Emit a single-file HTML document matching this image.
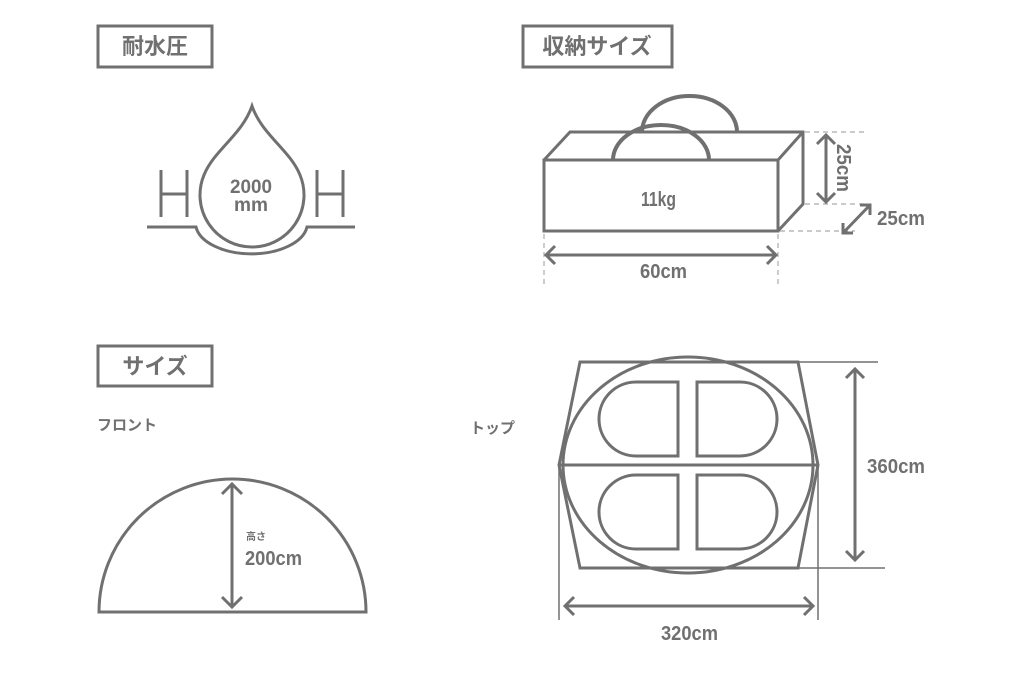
<!DOCTYPE html>
<html><head><meta charset="utf-8"><style>
html,body{margin:0;padding:0;background:#fff;}
svg{display:block;}
text{font-family:"Liberation Sans","Noto Sans CJK JP",sans-serif;font-weight:bold;fill:#707070;}
</style></head><body>
<svg width="1024" height="683" viewBox="0 0 1024 683" xmlns="http://www.w3.org/2000/svg">
<g fill="none" stroke="#707070" stroke-width="3">
<rect x="98" y="26" width="114" height="41"/>
<rect x="523" y="26" width="149" height="41"/>
<rect x="98" y="346" width="114" height="40"/>

<path d="M252 106 C262 135 290 150 300 175 A52 52 0 1 1 204 175 C214 150 242 135 252 106 Z"/>
<path d="M147 227 L196 227 A56 31 0 0 0 307 227 L355 227"/>
<path d="M161 170 V217 M187 170 V217 M161 194 H187"/>
<path d="M317 170 V217 M343 170 V217 M317 194 H343"/>

<path d="M642 132 A47.5 36 0 0 1 737 132" stroke-width="4"/>
<rect x="544" y="160" width="234" height="71"/>
<path d="M544 160 L570 132 L803 132 L803 204 L778 231 M778 160 L803 132"/>
<path d="M613 160 A48 35 0 0 1 709 160" stroke-width="4"/>
<g stroke-dasharray="5 4" stroke-width="1.2" stroke="#aaa">
<path d="M805 132 H868 M805 204 H868 M780 231 H855 M544 234 V285 M778 234 V285"/>
</g>
<path d="M826 135 V202 M817 144 L826 135 L835 144 M817 193 L826 202 L835 193"/>
<path d="M843 233 L870 205 M843 223 L843 233 L853 233 M860 205 L870 205 L870 215"/>
<path d="M546 255 H776 M555 246 L546 255 L555 264 M767 246 L776 255 L767 264"/>

<path d="M99 612 A133.5 133 0 0 1 366 612 Z"/>
<path d="M232 484 V607 M222 494 L232 484 L242 494 M222 597 L232 607 L242 597"/>

<path d="M580 362 L798 362 L818 465 L798 568 L580 568 L559 465 Z"/>
<ellipse cx="688" cy="465" rx="125" ry="108"/>
<path d="M559 465 H818"/>
<path d="M678 382 V456 H636 A37 37 0 0 1 636 382 Z"/>
<path d="M697 382 V456 H740 A37 37 0 0 0 740 382 Z"/>
<path d="M678 475 V549 H636 A37 37 0 0 1 636 475 Z"/>
<path d="M697 475 V549 H740 A37 37 0 0 0 740 475 Z"/>
<path d="M798 362 H878 M798 568 H885 M559 465 V620 M818 465 V620" stroke-width="1.5"/>
<path d="M855 369 V560 M846 378 L855 369 L864 378 M846 551 L855 560 L864 551"/>
<path d="M565 606 H813 M574 597 L565 606 L574 615 M804 597 L813 606 L804 615"/>
</g>

<text x="155" y="54" font-size="22" text-anchor="middle">耐水圧</text>
<text x="597" y="54" font-size="22" text-anchor="middle">収納サイズ</text>
<text x="155" y="374" font-size="22" text-anchor="middle">サイズ</text>

<text x="230" y="193" font-size="19" textLength="42" lengthAdjust="spacingAndGlyphs">2000</text>
<text x="234" y="211" font-size="19" textLength="34" lengthAdjust="spacingAndGlyphs">mm</text>

<text x="641" y="206" font-size="20" textLength="35" lengthAdjust="spacingAndGlyphs">11kg</text>
<text x="0" y="0" font-size="20" transform="translate(837 144) rotate(90)" textLength="48" lengthAdjust="spacingAndGlyphs">25cm</text>
<text x="877" y="225" font-size="20" textLength="48" lengthAdjust="spacingAndGlyphs">25cm</text>
<text x="640" y="278" font-size="20" textLength="47" lengthAdjust="spacingAndGlyphs">60cm</text>

<text x="97" y="430" font-size="15">フロント</text>
<text x="246" y="540" font-size="10">高さ</text>
<text x="245" y="565" font-size="20" textLength="57" lengthAdjust="spacingAndGlyphs">200cm</text>

<text x="470" y="433" font-size="15">トップ</text>
<text x="867" y="473" font-size="20" textLength="58" lengthAdjust="spacingAndGlyphs">360cm</text>
<text x="661" y="640" font-size="20" textLength="57" lengthAdjust="spacingAndGlyphs">320cm</text>
</svg>
</body></html>
